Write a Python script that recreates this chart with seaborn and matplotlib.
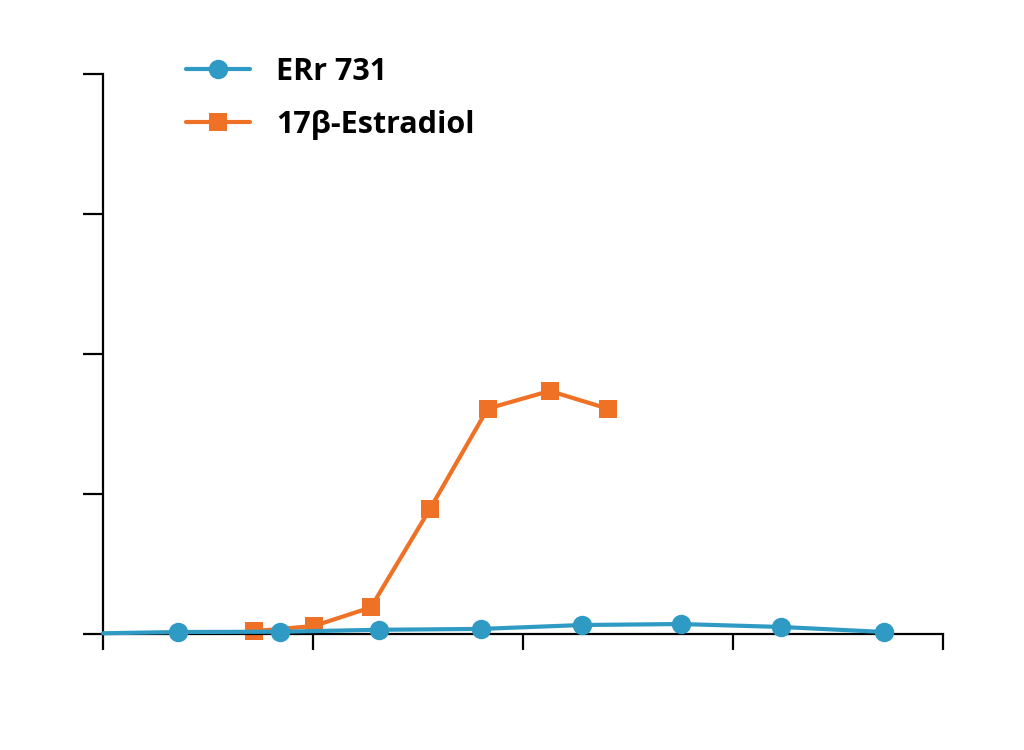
import numpy as np
import pandas as pd
import matplotlib
matplotlib.use('Agg')
import matplotlib.pyplot as plt
import seaborn as sns

# date (axa x in unitati de tick, 0..4)
x_err = [0.0, 0.357, 0.842, 1.313, 1.798, 2.278, 2.749, 3.229, 3.719]
y_err = [0.005, 0.014, 0.016, 0.030, 0.036, 0.064, 0.071, 0.050, 0.014]

x_e2 = [0.718, 1.004, 1.275, 1.555, 1.831, 2.126, 2.402]
y_e2 = [0.020, 0.057, 0.19, 0.89, 1.61, 1.736, 1.61]

albastru = '#2F9BC4'
portocaliu = '#EF7125'

sns.set_style('ticks')
plt.rcParams['font.family'] = ['Open Sans', 'DejaVu Sans']
plt.rcParams['text.color'] = 'black'

fig = plt.figure(figsize=(10.24, 7.5), dpi=100)
ax = fig.add_axes([0.1006, 0.1547, 0.8207, 0.7466])

df_err = pd.DataFrame({'x': x_err, 'y': y_err})
df_e2 = pd.DataFrame({'x': x_e2, 'y': y_e2})

sns.lineplot(data=df_err, x='x', y='y', ax=ax, color=albastru, lw=3,
             marker='o', markersize=14, markeredgewidth=0,
             markevery=list(range(1, len(x_err))), label='ERr 731',
             clip_on=False, zorder=3)
sns.lineplot(data=df_e2, x='x', y='y', ax=ax, color=portocaliu, lw=3,
             marker='s', markersize=13, markeredgewidth=0,
             label='17β-Estradiol', clip_on=False, zorder=2)

ax.set_xlim(0, 4)
ax.set_ylim(0, 4)
ax.set_xticks([0, 1, 2, 3, 4])
ax.set_yticks([0, 1, 2, 3, 4])
ax.set_xticklabels([])
ax.set_yticklabels([])
ax.set_xlabel('')
ax.set_ylabel('')

for s in ['top', 'right']:
    ax.spines[s].set_visible(False)
for s in ['left', 'bottom']:
    ax.spines[s].set_linewidth(1.6)
    ax.spines[s].set_color('black')
ax.tick_params(axis='y', length=14.5, width=1.6, color='black', direction='out')
ax.tick_params(axis='x', length=11.5, width=1.6, color='black', direction='out')

leg = ax.legend(loc='upper left', bbox_to_anchor=(0.066, 1.08), frameon=False,
                handlelength=2.1, handletextpad=0.85, labelspacing=0.75,
                prop={'size': 22, 'weight': 'bold'})
for t in leg.get_texts():
    t.set_color('black')

fig.savefig('out.png', dpi=100)
